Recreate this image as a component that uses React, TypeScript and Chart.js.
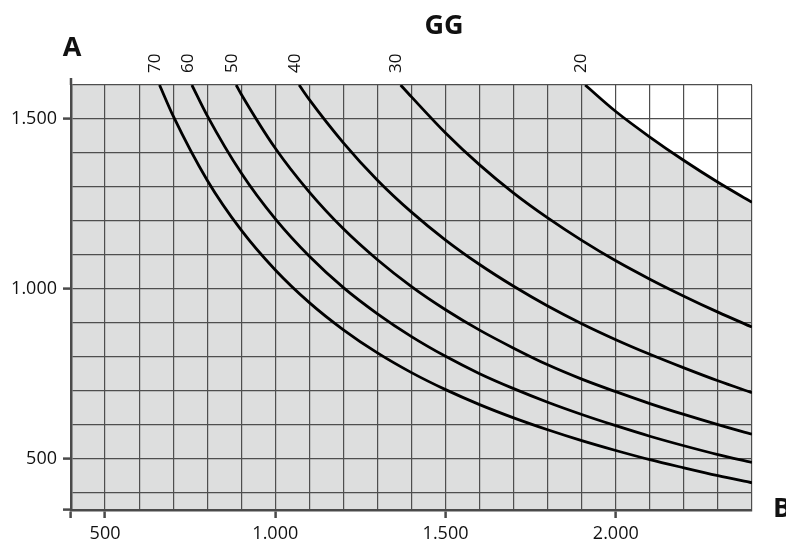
import React, { useEffect, useRef } from 'react';
import { Chart, registerables } from 'chart.js';

// ---- data ----
const titleText = 'GG';
const yAxisTitle = 'A';
const xAxisTitle = 'B';

const curveLabels = ['70', '60', '50', '40', '30', '20'];

const curve70X = [660, 700, 800, 900, 1000, 1100, 1200, 1300, 1400, 1500, 1600, 1700, 1800, 1900, 2000, 2100, 2200, 2300, 2400];
const curve70Y = [1600, 1509, 1320, 1173, 1056, 960, 880, 812, 754, 704, 660, 621, 586, 554, 525, 498, 474, 451, 430];

const curve60X = [755, 800, 900, 1000, 1100, 1200, 1300, 1400, 1500, 1600, 1700, 1800, 1900, 2000, 2100, 2200, 2300, 2400];
const curve60Y = [1600, 1510, 1341, 1206, 1096, 1004, 927, 860, 802, 751, 707, 667, 631, 598, 567, 539, 513, 490];

const curve50X = [885, 900, 1000, 1100, 1200, 1300, 1400, 1500, 1600, 1700, 1800, 1900, 2000, 2100, 2200, 2300, 2400];
const curve50Y = [1600, 1573, 1414, 1285, 1177, 1086, 1007, 939, 879, 826, 777, 735, 698, 663, 631, 601, 573];

const curve40X = [1070, 1100, 1200, 1300, 1400, 1500, 1600, 1700, 1800, 1900, 2000, 2100, 2200, 2300, 2400];
const curve40Y = [1600, 1557, 1430, 1320, 1226, 1144, 1072, 1008, 950, 898, 851, 808, 768, 730, 695];

const curve30X = [1368, 1400, 1500, 1600, 1700, 1800, 1900, 2000, 2100, 2200, 2300, 2400];
const curve30Y = [1600, 1565, 1459, 1365, 1282, 1209, 1143, 1083, 1029, 979, 932, 888];

const curve20X = [1910, 2000, 2100, 2200, 2300, 2400];
const curve20Y = [1600, 1522, 1447, 1378, 1314, 1255];

const curveXs = [curve70X, curve60X, curve50X, curve40X, curve30X, curve20X];
const curveYs = [curve70Y, curve60Y, curve50Y, curve40Y, curve30Y, curve20Y];

const xGridValues = [400, 500, 600, 700, 800, 900, 1000, 1100, 1200, 1300, 1400, 1500, 1600, 1700, 1800, 1900, 2000, 2100, 2200, 2300, 2400];
const yGridValues = [350, 400, 500, 600, 700, 800, 900, 1000, 1100, 1200, 1300, 1400, 1500, 1600];

const xLabelValues = [500, 1000, 1500, 2000];
const xTickLabels = ['500', '1.000', '1.500', '2.000'];
const yLabelValues = [500, 1000, 1500];
const yTickLabels = ['500', '1.000', '1.500'];

// ---- styles ----
const FONT = '"Open Sans", "Liberation Sans", sans-serif';
const GRAY = '#dddede';
const GRID = '#4e4e4e';
const AXIS = '#4a4a4a';
const TEXT = '#111111';

const grayArea = {
  id: 'grayArea',
  beforeDraw(chart: any) {
    const { ctx, chartArea } = chart;
    if (!chartArea) return;
    ctx.save();
    ctx.fillStyle = GRAY;
    ctx.fillRect(chartArea.left, chartArea.top, chartArea.right - chartArea.left, chartArea.bottom - chartArea.top);
    ctx.restore();
  },
};
Chart.register(grayArea);
Chart.register(...registerables);

const annotations = {
  id: 'annotations',
  afterDraw(chart: any) {
    const { ctx, chartArea, scales } = chart;
    ctx.save();
    ctx.strokeStyle = AXIS;
    ctx.lineWidth = 2.5;
    ctx.beginPath();
    ctx.moveTo(chartArea.left, chartArea.top);
    ctx.lineTo(chartArea.left, chartArea.top - 7);
    ctx.stroke();

    ctx.fillStyle = TEXT;
    ctx.font = `bold 27px ${FONT}`;
    ctx.textBaseline = 'alphabetic';
    ctx.textAlign = 'center';
    ctx.fillText(titleText, 444, 34);
    ctx.fillText(yAxisTitle, 72, 56);
    ctx.textAlign = 'left';
    ctx.fillText(xAxisTitle, 773, 517);

    ctx.font = `17px ${FONT}`;
    curveLabels.forEach((label, i) => {
      const px = scales.x.getPixelForValue(curveXs[i][0]) - 4;
      ctx.save();
      ctx.translate(px, 73);
      ctx.rotate(-Math.PI / 2);
      ctx.textAlign = 'left';
      ctx.textBaseline = 'middle';
      ctx.fillText(label, 0, 0);
      ctx.restore();
    });
    ctx.restore();
  },
};

export default function App() {
  const canvasRef = useRef<HTMLCanvasElement | null>(null);

  useEffect(() => {
    if (!canvasRef.current) return;
    const datasets = curveLabels.map((label, i) => ({
      label,
      data: curveXs[i].map((x, j) => ({ x, y: curveYs[i][j] })),
      borderColor: '#000000',
      borderWidth: 2.8,
      pointRadius: 0,
      cubicInterpolationMode: 'monotone' as const,
      fill: label === '20' ? 'end' : false,
      backgroundColor: '#ffffff',
    }));

    const chart = new Chart(canvasRef.current, {
      type: 'line',
      data: { datasets },
      options: {
        animation: false,
        responsive: true,
        maintainAspectRatio: false,
        layout: { padding: { top: 85, right: 34, left: 0, bottom: 0 } },
        plugins: {
          legend: { display: false },
          tooltip: { enabled: false },
          title: { display: false },
          colors: { enabled: false },
          filler: { drawTime: 'beforeDraw' },
        } as any,
        scales: {
          x: {
            type: 'linear',
            min: 400,
            max: 2400,
            afterBuildTicks: (s: any) => {
              s.ticks = xGridValues.map((v) => ({ value: v }));
            },
            afterFit: (s: any) => {
              s.height = 30;
            },
            ticks: {
              autoSkip: false,
              maxRotation: 0,
              padding: 5,
              color: TEXT,
              font: { family: FONT, size: 18 },
              callback: (v: any) => {
                const k = xLabelValues.indexOf(Number(v));
                return k >= 0 ? xTickLabels[k] : '';
              },
            },
            grid: {
              color: GRID,
              lineWidth: 1.2,
              tickLength: 8,
              tickWidth: 2.5,
              tickColor: (c: any) => {
                const v = c.tick ? c.tick.value : null;
                return v === 400 || xLabelValues.indexOf(v) >= 0 ? AXIS : 'rgba(0,0,0,0)';
              },
            },
            border: { color: AXIS, width: 2.5 },
          },
          y: {
            type: 'linear',
            min: 350,
            max: 1600,
            afterBuildTicks: (s: any) => {
              s.ticks = yGridValues.map((v) => ({ value: v }));
            },
            afterFit: (s: any) => {
              s.width = 71;
            },
            ticks: {
              autoSkip: false,
              padding: 6,
              color: TEXT,
              font: { family: FONT, size: 18 },
              callback: (v: any) => {
                const k = yLabelValues.indexOf(Number(v));
                return k >= 0 ? yTickLabels[k] : '';
              },
            },
            grid: {
              color: GRID,
              lineWidth: 1.2,
              tickLength: 8,
              tickWidth: 2.5,
              tickColor: (c: any) => {
                const v = c.tick ? c.tick.value : null;
                return v === 350 || yLabelValues.indexOf(v) >= 0 ? AXIS : 'rgba(0,0,0,0)';
              },
            },
            border: { color: AXIS, width: 2.5 },
          },
        },
      } as any,
      plugins: [annotations],
    });
    return () => chart.destroy();
  }, []);

  return (
    <div style={{ position: 'fixed', left: 0, top: 0, width: 786, height: 540, background: '#ffffff' }}>
      <canvas ref={canvasRef} />
    </div>
  );
}
